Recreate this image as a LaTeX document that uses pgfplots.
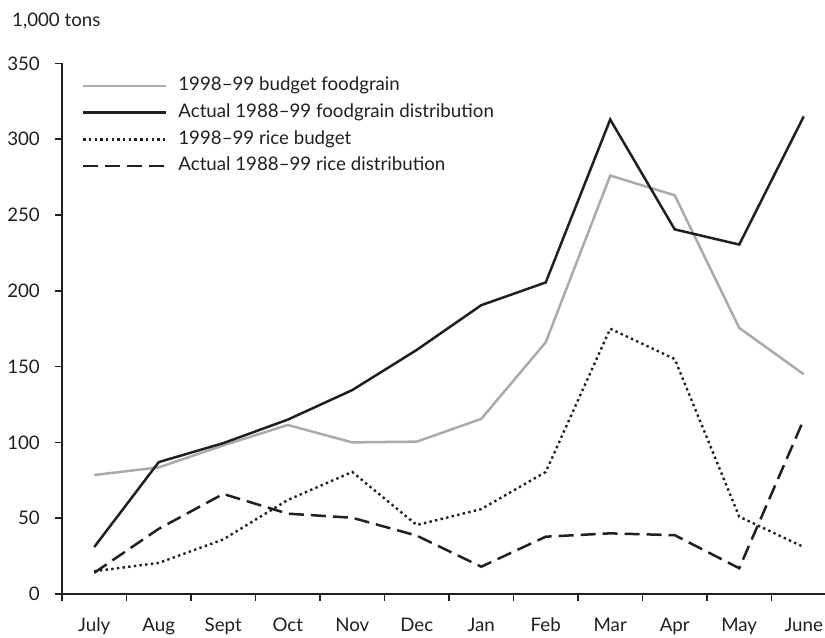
\documentclass[border=0pt]{standalone}
\usepackage{fontspec}
\setmainfont{Lato}
\usepackage{pgfplots}
\pgfplotsset{compat=1.18}
\definecolor{ink}{RGB}{35,31,32}
\definecolor{lgray}{RGB}{170,171,173}
\begin{document}
\fontsize{18.7bp}{22bp}\selectfont
\begin{tikzpicture}
\path[use as bounding box] (-62bp,-44bp) rectangle (763bp,594bp);
\begin{axis}[
  at={(0,0)}, anchor=south west,
  scale only axis, width=763bp, height=530.6bp,
  xmin=-0.5, xmax=11.33, ymin=0, ymax=350,
  axis x line=bottom, axis y line=left,
  axis line style={-, line width=2.7bp, color=ink},
  ytick={0,50,...,350},
  xtick={-0.5,0.5,...,10.5}, xticklabels={},
  extra x ticks={0,1,2,3,4,5,6,7,8,9,10,11},
  extra x tick labels={July,Aug,Sept,Oct,Nov,Dec,Jan,Feb,Mar,Apr,May,June},
  extra x tick style={major tick length=0pt, tick style={draw=none}},
  tick align=outside, major tick length=7bp,
  tick style={line width=1.5bp, color=ink},
  /pgf/number format/assume math mode=true,
  ticklabel style={font=\fontsize{18.7bp}{22bp}\selectfont, text=ink},
  yticklabel style={inner sep=0pt, xshift=-15bp},
  xticklabel style={inner sep=0pt, yshift=-24bp},
  legend cell align=left,
  legend style={at={(axis description cs:0,1)}, anchor=north west,
    xshift=19.7bp, yshift=-12bp, draw=none, fill=none, inner sep=0pt,
    row sep=6.3bp, column sep=10bp,
    nodes={inner sep=1bp, text height=14bp, text depth=4.5bp, text=ink},
    font=\fontsize{18.7bp}{22bp}\selectfont},
  legend image code/.code={\draw[#1] (0bp,0bp) -- (83bp,0bp);},
]
\addplot[lgray, line width=2.5bp] coordinates {
 (0,78.5) (1,83.5) (2,98) (3,111.5) (4,100) (5,100.5) (6,115.5) (7,166) (8,276) (9,263) (10,175.5) (11,145)};
\addlegendentry{1998–99 budget foodgrain}
\addplot[ink, line width=2.5bp] coordinates {
 (0,31) (1,87) (2,99.5) (3,115) (4,134.5) (5,161) (6,190.5) (7,205.5) (8,313) (9,240.5) (10,230.5) (11,315)};
\addlegendentry{Actual 1988–99 foodgrain distribution}
\addplot[ink, line width=2.4bp, dash pattern=on 2.4bp off 3.3bp] coordinates {
 (0,15) (1,20.5) (2,36) (3,62) (4,80.5) (5,45.5) (6,56) (7,80.5) (8,175) (9,155) (10,51) (11,31)};
\addlegendentry{1998–99 rice budget}
\addplot[ink, line width=2.5bp, dash pattern=on 15bp off 7bp] coordinates {
 (0,14) (1,43) (2,66) (3,53) (4,50.3) (5,38.5) (6,18) (7,37.8) (8,40) (9,38.8) (10,17) (11,115)};
\addlegendentry{Actual 1988–99 rice distribution}
\end{axis}
\node[anchor=base west, inner sep=0pt, text=ink] at (-50bp,567bp) {1,000 tons};
\end{tikzpicture}
\end{document}
